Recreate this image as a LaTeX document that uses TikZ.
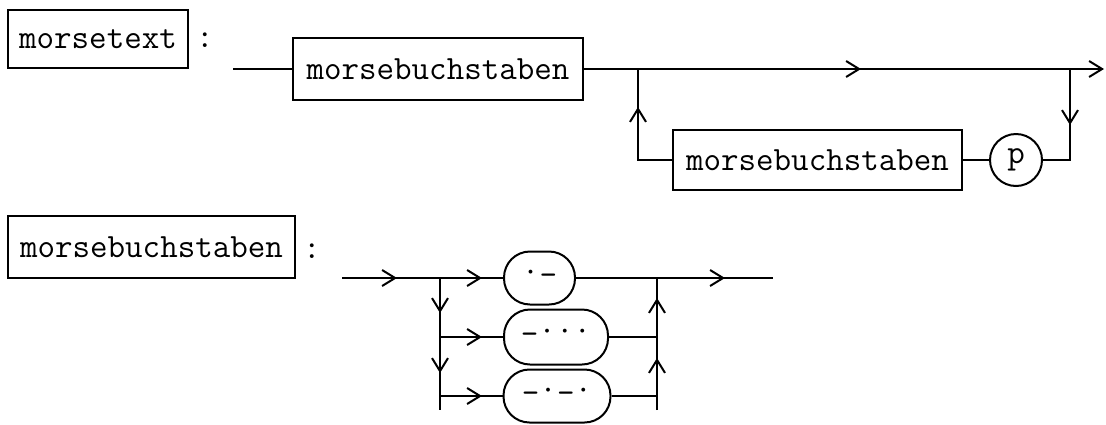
\documentclass[tikz,border=0pt]{standalone}
\usepackage{fontspec}
\setmonofont{Latin Modern Mono}
\usetikzlibrary{arrows.meta,decorations.markings}

% Morse symbols: a dot and a slightly lowered dash
\newcommand\dit{·}
\newcommand\dah{\raisebox{-0.1em}{–}}

\tikzset{
  mono/.style={font=\fontsize{34}{36}\selectfont\ttfamily},
  hdr/.style={draw, mono, inner sep=0pt},
  term/.style={draw, mono, inner sep=0pt, rounded corners=26pt},
  circ/.style={draw, circle, mono, inner sep=0pt, minimum size=52pt},
  arr/.style={postaction={decorate},
    decoration={markings, mark=at position #1 with {\arrow{>}}}},
  arrtwo/.style 2 args={postaction={decorate},
    decoration={markings,
      mark=at position #1 with {\arrow{>}},
      mark=at position #2 with {\arrow{>}}}},
}

\begin{document}
\begin{tikzpicture}[x=1pt, y=-1pt, line width=2pt,
  >={Straight Barb[length=13pt,width=16pt]}]
\useasboundingbox (0,0) rectangle (1106,424);

% --- rule: morsetext ---
\node[hdr, minimum width=180pt, minimum height=58pt] (mt) at (98,39) {morsetext};
\node[mono] (c1) at (205,40) {:};
\node[hdr, minimum width=290pt, minimum height=62pt] (mb1) at (438,69) {morsebuchstaben};
\node[hdr, minimum width=289pt, minimum height=60pt] (mb2) at (817.5,160) {morsebuchstaben};
\node[circ] (p) at (1016,160) {p};

\coordinate (s1) at (233,69);
\coordinate (j1) at (638,69);
\coordinate (j2) at (1070,69);
\coordinate (e1) at (1104,69);

\draw (s1) -- (mb1);
\draw[arr=277pt, ->] (mb1.east) -- (e1);
\draw[arr=56pt] (j2) |- (p.east);
\draw (p.west) -- (mb2.east);
\draw[arr=87pt] (mb2.west) -| (j1);

% --- rule: morsebuchstaben ---
\node[hdr, minimum width=287pt, minimum height=62pt] (mb3) at (151.5,247) {morsebuchstaben};
\node[mono] (c2) at (312,251) {:};
\node[term, minimum width=71pt, minimum height=53pt] (ta) at (539.5,278) {\dit\dah};
\node[term, minimum width=104pt, minimum height=55pt] (tb) at (556,337) {\dah\dit\dit\dit};
\node[term, minimum width=107pt, minimum height=53pt] (tc) at (557,396) {\dah\dit\dah\dit};

\coordinate (s2) at (342,278);
\coordinate (aL) at (440,278);
\coordinate (bL) at (440,337);
\coordinate (cL) at (440,396);
\coordinate (dL) at (440,410);
\coordinate (aR) at (657,278);
\coordinate (bR) at (657,337);
\coordinate (cR) at (657,396);
\coordinate (dR) at (657,410);
\coordinate (e2) at (773,278);

\draw[arr=55pt] (s2) -- (aL);
\draw[arr=42pt] (aL) -- (ta);
\draw[arrtwo={35pt}{95pt}] (aL) -- (dL);
\draw[arr=42pt] (bL) -- (tb);
\draw[arr=42pt] (cL) -- (tc);
\draw (ta) -- (aR);
\draw (tb) -- (bR);
\draw (tc) -- (cR);
\draw[arrtwo={52pt}{112pt}] (dR) -- (aR);
\draw[arr=68pt] (aR) -- (e2);
\end{tikzpicture}
\end{document}
